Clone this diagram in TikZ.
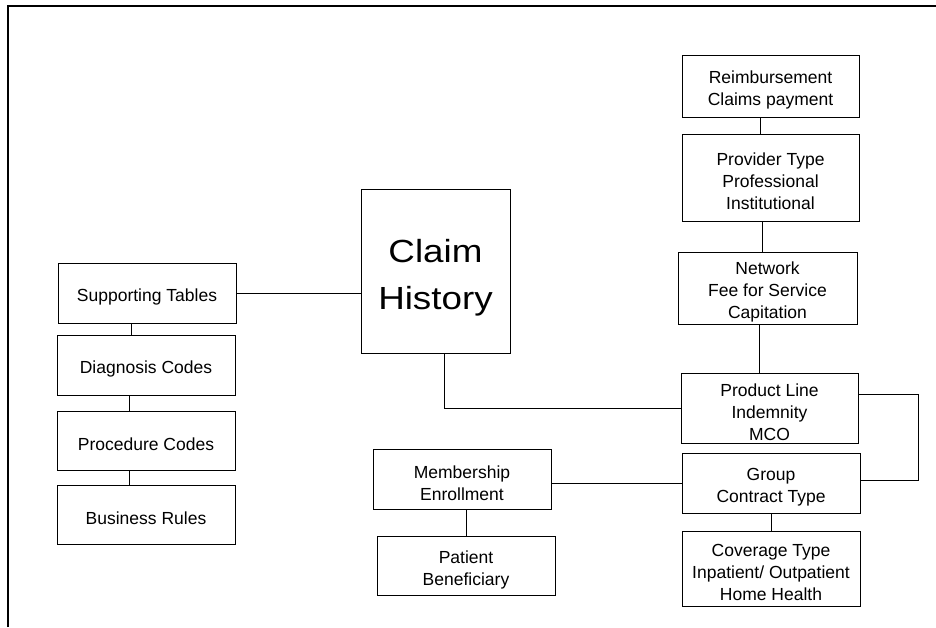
\documentclass[tikz,border=0pt]{standalone}
\usepackage{fontspec}
\setmainfont{Liberation Sans}
\newfontfamily\bigfont[FakeStretch=1.15]{Liberation Sans}
\usetikzlibrary{positioning}
% extra room above the first line of a box
\newcommand{\topgap}[1]{\rule{0pt}{#1}}

\begin{document}
\begin{tikzpicture}[x=1pt,y=-1pt,
  box/.style={draw,line width=1pt,align=center,inner sep=0pt,
    font=\fontsize{17.5}{22}\selectfont},
  link/.style={line width=1pt}]
\useasboundingbox (0,0) rectangle (936,627);
\draw[line width=1.5pt] (8,627)--(8,6)--(936,6);

% left column
\node[box,minimum width=178pt,minimum height=60pt] (supp) at (147,293) {\topgap{21pt}Supporting Tables};
\node[box,minimum width=178pt,minimum height=60pt] (diag) at (146,365) {\topgap{21pt}Diagnosis Codes};
\node[box,minimum width=178pt,minimum height=59pt] (proc) at (146,440.5) {\topgap{21pt}Procedure Codes};
\node[box,minimum width=178pt,minimum height=59pt] (bus) at (146,514.5) {\topgap{21pt}Business Rules};

% centre
\node[box,minimum width=149pt,minimum height=164pt,
  font=\bigfont\fontsize{32}{47}\selectfont] (claim) at (435.5,271) {\topgap{37pt}Claim\\History};

% right column
\node[box,minimum width=177pt,minimum height=62pt] (reimb) at (770.5,86) {\topgap{21pt}Reimbursement\\Claims payment};
\node[box,minimum width=177pt,minimum height=87pt] (prov) at (770.5,177.5) {\topgap{20pt}Provider Type\\Professional\\Institutional};
\node[box,minimum width=179pt,minimum height=72pt] (net) at (767.5,288) {\topgap{21pt}Network\\Fee for Service\\Capitation};
\node[box,minimum width=177pt,minimum height=70pt] (prod) at (769.5,408) {\topgap{21pt}Product Line\\Indemnity\\MCO};
\node[box,minimum width=178pt,minimum height=60pt] (grp) at (771,483) {\topgap{21pt}Group\\Contract Type};
\node[box,minimum width=178pt,minimum height=75pt] (cov) at (771,568.5) {\topgap{21pt}Coverage Type\\Inpatient/ Outpatient\\Home Health};

% members
\node[box,minimum width=178pt,minimum height=60pt] (memb) at (462,479) {\topgap{21pt}Membership\\Enrollment};
\node[box,minimum width=178pt,minimum height=59pt] (pat) at (466,565.5) {\topgap{21pt}Patient\\Beneficiary};

\draw[link] (supp.east) -- (supp.east -| claim.west);
\draw[link] ([xshift=-16pt]supp.south) -- ([xshift=-15pt]diag.north);
\draw[link] ([xshift=-17pt]diag.south) -- ([xshift=-17pt]proc.north);
\draw[link] ([xshift=-17pt]proc.south) -- ([xshift=-17pt]bus.north);
\draw[link] ([xshift=8.5pt]claim.south) |- (prod.west);
\draw[link] ([xshift=-10pt]reimb.south) -- ([xshift=-10pt]prov.north);
\draw[link] ([xshift=-8pt]prov.south) -- ([xshift=-5pt]net.north);
\draw[link] ([xshift=-8pt]net.south) -- ([xshift=-10pt]prod.north);
\draw[link] ([yshift=14pt]prod.east) -- (918,394) |- ([yshift=3pt]grp.east);
\draw[link] (grp.west) -- (grp.west -| memb.east);
\draw[link] (pat.north) -- (pat.north |- memb.south);
\draw[link] (grp.south) -- (cov.north);
\end{tikzpicture}
\end{document}
